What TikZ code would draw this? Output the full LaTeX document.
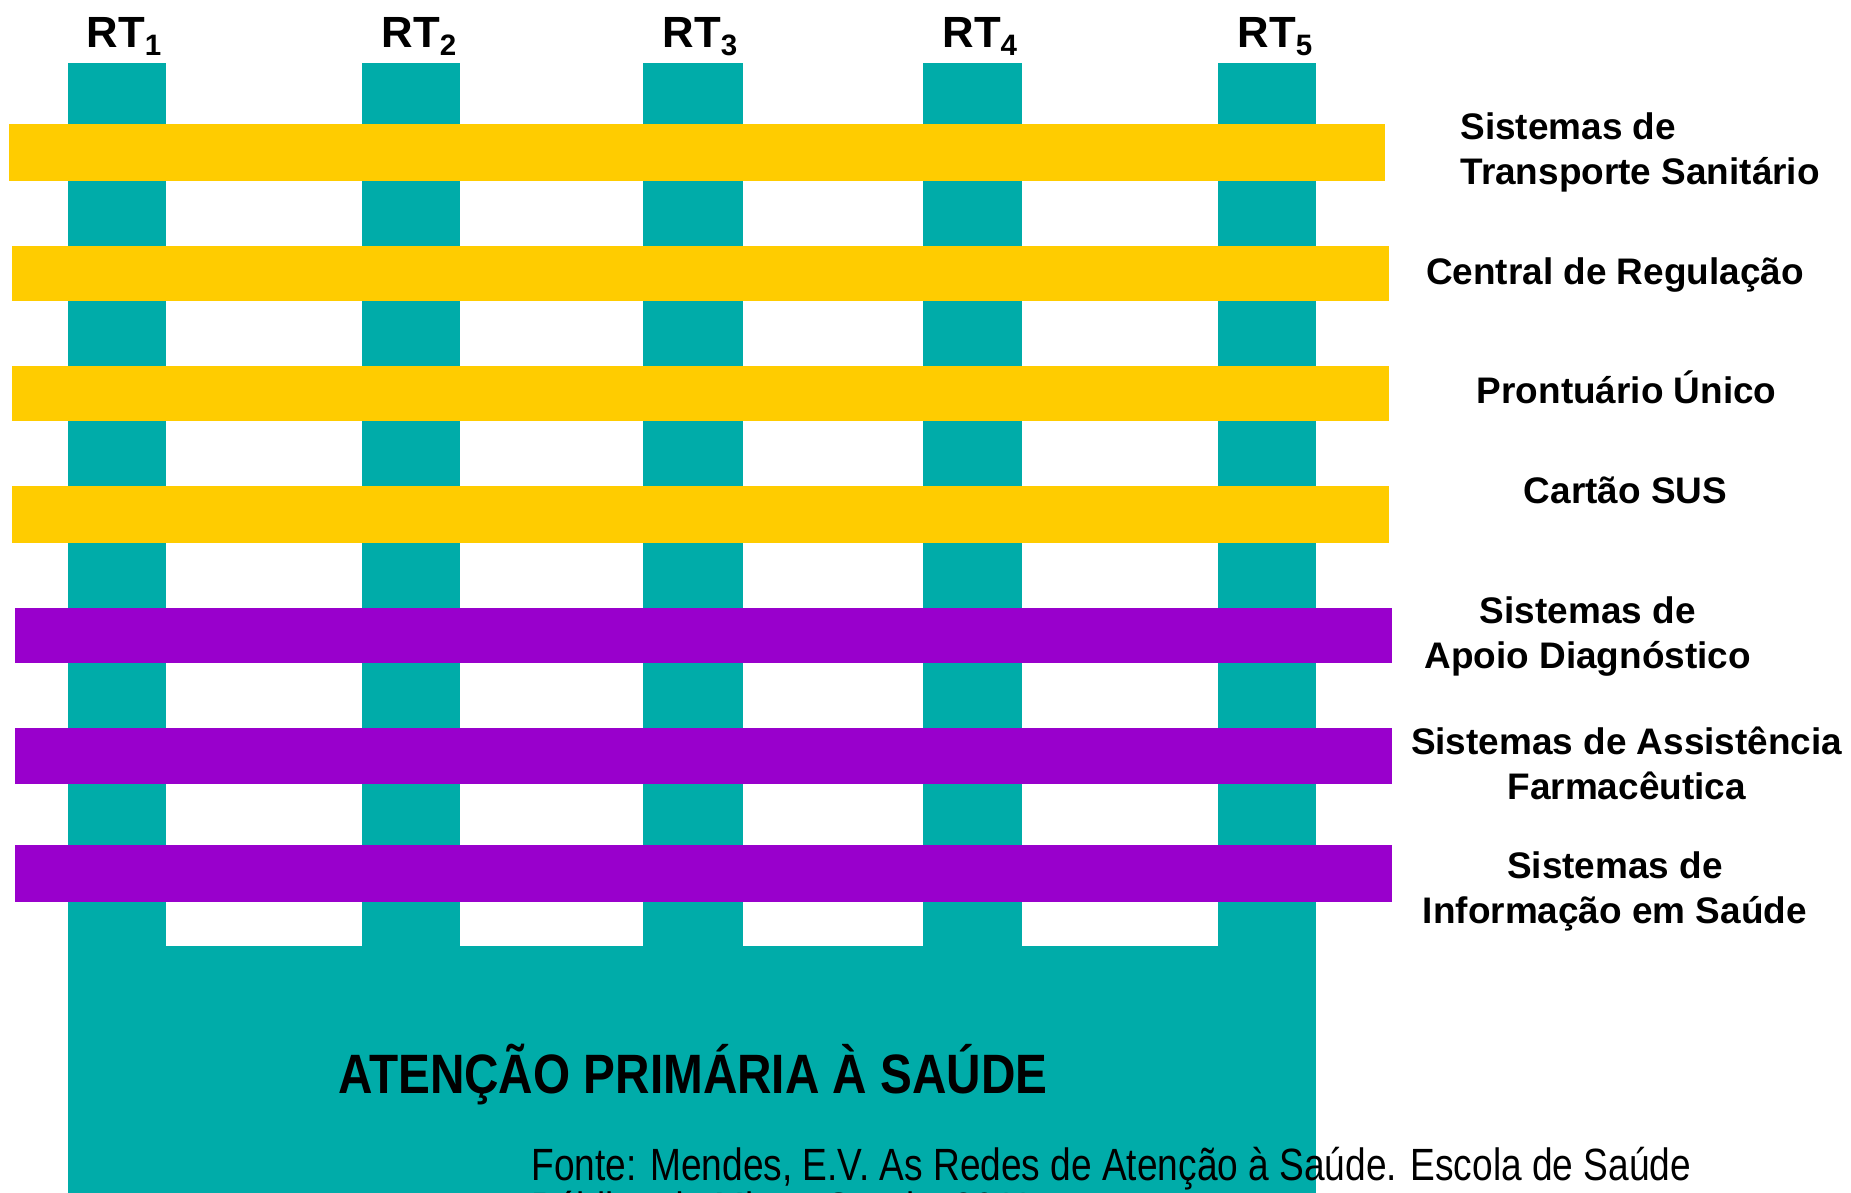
\documentclass[tikz,border=0pt]{standalone}
\usepackage{fontspec}
\setmainfont{Liberation Sans}
\newfontfamily\narrowfont[FakeStretch=0.86]{Liberation Sans}
\newfontfamily\fontefont[FakeStretch=0.82]{Liberation Sans}
\definecolor{rtteal}{RGB}{0,172,169}
\definecolor{baryellow}{RGB}{255,204,0}
\definecolor{barpurple}{RGB}{153,0,204}
\tikzset{
  column/.style={fill=rtteal},
  ybar/.style={fill=baryellow},
  pbar/.style={fill=barpurple},
  rtlabel/.style={anchor=base, inner sep=0pt, font=\fontsize{37}{40}\selectfont\bfseries},
  sidelabel/.style={inner sep=0pt, align=center, font=\fontsize{31.3}{38}\selectfont\bfseries},
}
\newcommand{\rtsub}[1]{RT\raisebox{-7pt}{\fontsize{25}{25}\selectfont #1}}
\begin{document}
\begin{tikzpicture}[x=1pt,y=-1pt]
\useasboundingbox (0,0) rectangle (1568,1010);
\clip (0,0) rectangle (1568,1010);
% columns
\foreach \a/\b in {58/141,307/390,545/629,782/866,1032/1115}
  \fill[column] (\a,53) rectangle (\b,801);
\fill[column] (58,801) rectangle (1115,1015);
% yellow bars
\fill[ybar] (8,105) rectangle (1173,153);
\fill[ybar] (10,208) rectangle (1177,255);
\fill[ybar] (10,310) rectangle (1177,357);
\fill[ybar] (10,412) rectangle (1177,460);
% purple bars
\fill[pbar] (13,515) rectangle (1179,562);
\fill[pbar] (13,617) rectangle (1179,664);
\fill[pbar] (13,716) rectangle (1179,764);
% RT labels
\node[rtlabel] (rt1) at (105,40) {\rtsub{1}};
\node[rtlabel] (rt2) at (355,40) {\rtsub{2}};
\node[rtlabel] (rt3) at (593,40) {\rtsub{3}};
\node[rtlabel] (rt4) at (830,40) {\rtsub{4}};
\node[rtlabel] (rt5) at (1080,40) {\rtsub{5}};
% side labels
\node[sidelabel, align=left, anchor=west] (l1) at (1237,129) {Sistemas de\\Transporte Sanitário};
\node[sidelabel] (l2) at (1368,233) {Central de Regulação};
\node[sidelabel] (l3) at (1378,328) {Prontuário Único};
\node[sidelabel] (l4) at (1377,415) {Cartão SUS};
\node[sidelabel] (l5) at (1345,539) {Sistemas de\\Apoio Diagnóstico};
\node[sidelabel] (l6) at (1378,647) {Sistemas de Assistência\\Farmacêutica};
\node[sidelabel] (l7) at (1368,755) {Sistemas de\\Informação em Saúde};
% base text
\node[anchor=base, inner sep=0pt, font=\narrowfont\bfseries\fontsize{47}{50}\selectfont] (aps) at (587,926) {ATENÇÃO PRIMÁRIA À SAÚDE};
\node[anchor=base west, inner sep=0pt, align=left, font=\fontefont\fontsize{38.3}{36}\selectfont] (fonte) at (450,1037) {Fonte: Mendes, E.V. As Redes de Atenção à Saúde. Escola de Saúde\\Pública de Minas Gerais, 2011.};
\end{tikzpicture}
\end{document}
